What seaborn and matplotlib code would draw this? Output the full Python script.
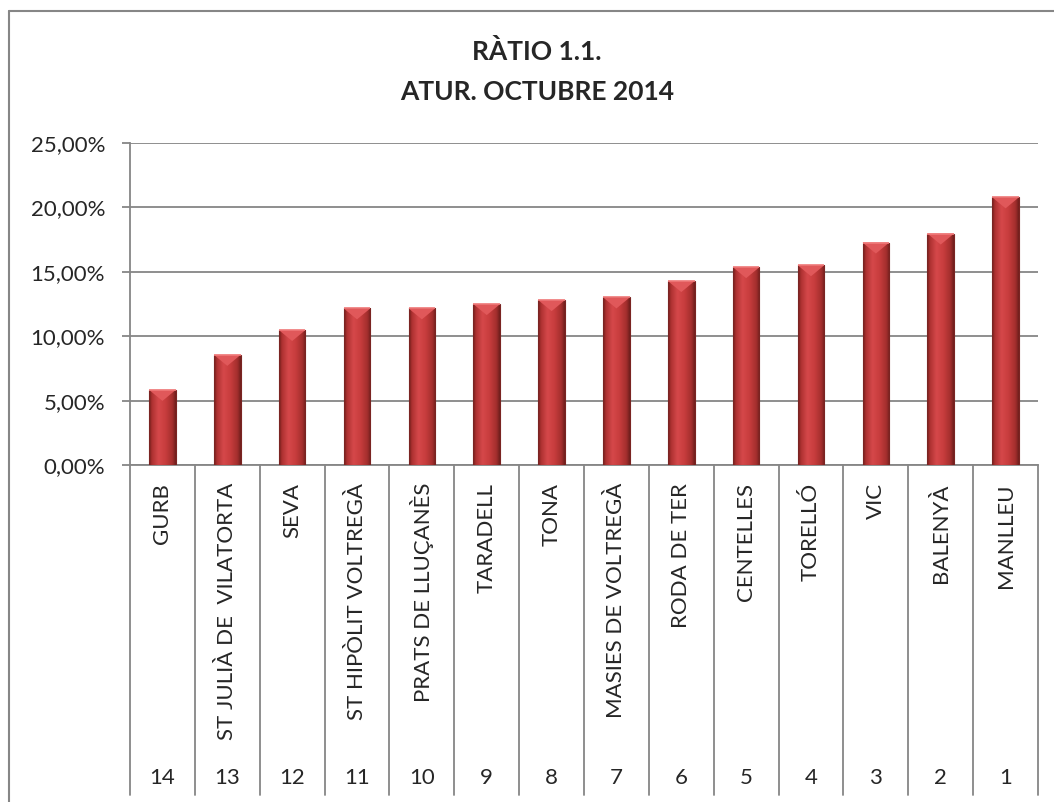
import numpy as np
import pandas as pd
import seaborn as sns
import matplotlib.pyplot as plt
from matplotlib.colors import LinearSegmentedColormap
from matplotlib.lines import Line2D
from matplotlib.patches import Polygon
from matplotlib.ticker import FuncFormatter, MultipleLocator
from matplotlib.transforms import blended_transform_factory

# Dades: taxa d'atur per municipi (octubre 2014)
municipis = ["GURB", "ST JULIÀ DE  VILATORTA", "SEVA", "ST HIPÒLIT VOLTREGÀ",
             "PRATS DE LLUÇANÈS", "TARADELL", "TONA", "MASIES DE VOLTREGÀ",
             "RODA DE TER", "CENTELLES", "TORELLÓ", "VIC", "BALENYÀ", "MANLLEU"]
posicio = [14, 13, 12, 11, 10, 9, 8, 7, 6, 5, 4, 3, 2, 1]
atur = [5.83, 8.55, 10.48, 12.16, 12.16, 12.49, 12.80, 13.01,
        14.28, 15.36, 15.51, 17.27, 17.97, 20.78]

df = pd.DataFrame({"municipi": municipis, "rang": posicio,
                   "atur": np.array(atur) / 100})

sns.set_style("white")
plt.rcParams['font.family'] = ['Lato', 'DejaVu Sans']

W, H = 1054, 802
fig = plt.figure(figsize=(W / 100, H / 100), dpi=100)
ax = fig.add_axes([130 / W, 1 - 465 / H, (1038 - 130) / W, (465 - 143) / H])

gris = "#868686"

sns.barplot(data=df, x="municipi", y="atur", color="#c0393b", width=0.41,
            ax=ax, zorder=3)

ax.set_ylim(0, 0.25)
ax.set_xlim(-0.5, len(municipis) - 0.5)
ax.yaxis.set_major_locator(MultipleLocator(0.05))
ax.yaxis.set_major_formatter(FuncFormatter(lambda v, p: f"{v * 100:.2f}%".replace(".", ",")))
ax.grid(axis="y", color=gris, linewidth=1.3, zorder=0)
ax.set_axisbelow(True)
ax.set_xlabel("")
ax.set_ylabel("")

for s in ["top", "right"]:
    ax.spines[s].set_visible(False)
for s in ["left", "bottom"]:
    ax.spines[s].set_color(gris)
    ax.spines[s].set_linewidth(1.3)

ax.tick_params(axis="y", direction="out", length=6, width=1.3, color=gris,
               pad=12, labelsize=16, left=True)
ax.tick_params(axis="x", length=0, pad=13, labelsize=16)
plt.setp(ax.get_xticklabels(), rotation=90)

# Barres amb degradat tipus cilindre
cmap = LinearSegmentedColormap.from_list("barra", [
    (0.0, "#6e1e1c"), (0.1, "#ad3130"), (0.35, "#d5484a"),
    (0.6, "#c93d3e"), (0.88, "#a32e2d"), (1.0, "#6e1e1c")])
grad = np.linspace(0, 1, 64).reshape(1, -1)
px_per_unit = (465 - 143) / 0.25
bisell = 11 / px_per_unit
for p in ax.patches:
    x0, w, h = p.get_x(), p.get_width(), p.get_height()
    im = ax.imshow(grad, cmap=cmap, extent=[x0, x0 + w, 0, h],
                   aspect="auto", zorder=4, interpolation="bicubic")
    im.set_clip_path(p)
    p.set_facecolor("none")
    p.set_edgecolor("#7a2422")
    p.set_linewidth(0.8)
    p.set_zorder(5)
    tri = Polygon([[x0, h], [x0 + w, h], [x0 + w / 2, h - bisell]],
                  closed=True, facecolor="#e0585a", edgecolor="none", zorder=5)
    ax.add_patch(tri)
    ax.plot([x0, x0 + w], [h, h], color="#f07a7a", linewidth=1.2, zorder=6,
            solid_capstyle="butt")

# Línies de separació de categories i segon nivell (rang)
tr = blended_transform_factory(ax.transData, fig.transFigure)
for i in range(len(municipis) + 1):
    xb = i - 0.5
    fig.add_artist(Line2D([xb, xb], [1 - 465 / H, 1 - 795 / H], transform=tr,
                          color=gris, linewidth=1.3))
for i, r in enumerate(df["rang"]):
    ax.text(i, 1 - 778 / H, str(r), transform=tr, ha="center", va="center",
            fontsize=16)

# Títol
fig.text(537 / W, 1 - 60 / H, "RÀTIO 1.1.", ha="center", va="baseline",
         fontsize=19, fontweight="bold")
fig.text(537 / W, 1 - 100 / H, "ATUR. OCTUBRE 2014", ha="center", va="baseline",
         fontsize=19, fontweight="bold")

# Marc del gràfic
fig.add_artist(Line2D([8.5 / W, 8.5 / W], [1 - 11 / H, 0], color=gris, linewidth=1.5))
fig.add_artist(Line2D([8.5 / W, 1], [1 - 11 / H, 1 - 11 / H], color=gris, linewidth=1.5))

fig.savefig("out.png", dpi=100)
